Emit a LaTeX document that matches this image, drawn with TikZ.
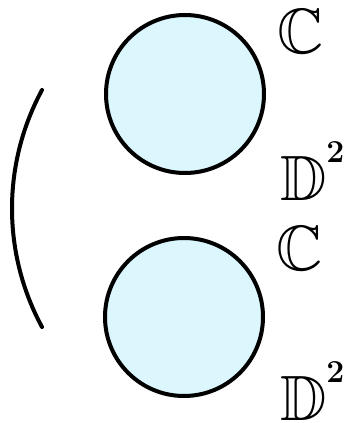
\documentclass[tikz,border=0pt]{standalone}
\usepackage{amssymb}
\usetikzlibrary{positioning}

\definecolor{diskfill}{RGB}{219,246,252}

\begin{document}
\begin{tikzpicture}[x=1pt,y=-1pt,
  disk/.style={circle,draw=black,fill=diskfill,line width=4pt,minimum size=158pt,inner sep=0pt},
  lbl/.style={inner sep=0pt,font=\fontsize{64}{64}\selectfont},
  bracket/.style={line width=4pt,line cap=round}]

\newcommand{\sqr}{\raisebox{38pt}{\fontsize{32}{32}\selectfont\textbf{2}}}

\useasboundingbox (0,0) rectangle (354,423);

\node[disk] (d1) at (185,94) {};
\node[disk] (d2) at (184,317) {};

\node[lbl,anchor=base west] (c1) at (277,53) {$\mathbb{C}$};
\node[lbl,anchor=base west] (p1) at (280,200) {$\mathbb{D}$\sqr};
\node[lbl,anchor=base west] (c2) at (276,270) {$\mathbb{C}$};
\node[lbl,anchor=base west] (p2) at (280,420) {$\mathbb{D}$\sqr};

\coordinate (b1) at (42,90);
\coordinate (b2) at (42,327);
\draw[bracket] (b1) .. controls (2,164) and (2,253) .. (b2);
\end{tikzpicture}
\end{document}
